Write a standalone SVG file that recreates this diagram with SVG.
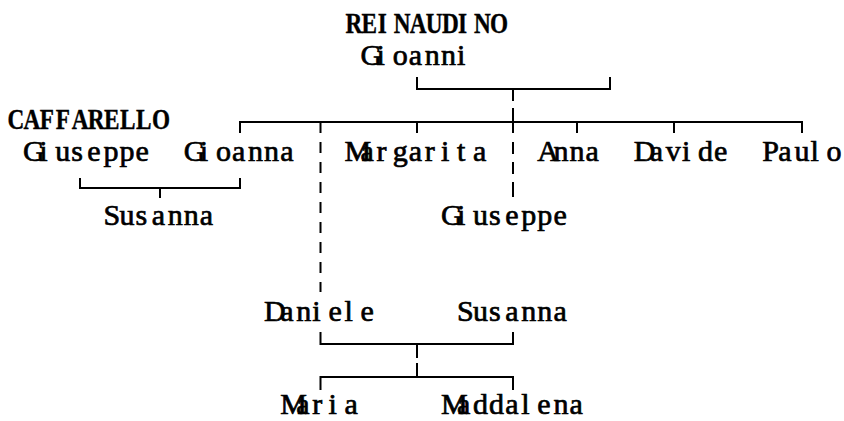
<svg xmlns="http://www.w3.org/2000/svg" width="844" height="421" viewBox="0 0 844 421">
<style>
.t{font-family:"Liberation Serif","DejaVu Serif",serif;font-size:30px;fill:#000;stroke:#000;stroke-width:0.7}
.s{font-size:29px;font-weight:bold;stroke-width:0.4}
.c{fill:none;stroke:#000;stroke-width:2}
</style>
<rect width="844" height="421" fill="#fff"/>
<g id="connectors">
<path class="c" d="M417,77V89H610V77M513,89V101M513,108V133M513,142V154M513,162V174M513,182V197"/>
<path class="c" d="M240,133V122H802V133M417,122V133M577,122V133M674,122V133"/>
<path class="c" d="M320.5,122V292" stroke-dasharray="11 9"/>
<path class="c" d="M80,178V188H240V178M160,188V198"/>
<path class="c" d="M320.5,332V344H513V332M417,344V358M417,363V377M320.5,390V377H513V390"/>
</g>
<g id="reinaudino-gioanni">
<text class="t s" transform="translate(345.5,33) scale(0.8,1)" x="0 20.09 40.18 60.26 80.35 100.44 120.53 140.61 160.7 180.79">REINAUDINO</text>
<text class="t" x="360.54 376.61 392.68 408.75 424.82 440.89 456.96" y="65">Gioanni</text>
</g>
<g id="caffarello-giuseppe">
<text class="t s" transform="translate(7.5,129) scale(0.8,1)" x="0 20.09 40.18 60.26 80.35 100.44 120.53 140.61 160.7 180.79">CAFFARELLO</text>
<text class="t" x="23.07 39.14 55.21 71.28 87.35 103.42 119.49 135.56" y="161">Giuseppe</text>
</g>
<g id="gioanna"><text class="t" x="183.77 199.84 215.91 231.98 248.05 264.12 280.19" y="161">Gioanna</text></g>
<g id="margarita"><text class="t" x="344.47 360.54 376.61 392.68 408.75 424.82 440.89 456.96 473.03" y="161">Margarita</text></g>
<g id="anna"><text class="t" x="537.31 553.38 569.45 585.52" y="161">Anna</text></g>
<g id="davide"><text class="t" x="633.73 649.80 665.87 681.94 698.01 714.08" y="161">Davide</text></g>
<g id="paulo"><text class="t" x="762.29 778.36 794.43 810.50 826.57" y="161">Paulo</text></g>
<g id="susanna-1"><text class="t" x="103.42 119.49 135.56 151.63 167.70 183.77 199.84" y="225">Susanna</text></g>
<g id="giuseppe-2"><text class="t" x="440.89 456.96 473.03 489.10 505.17 521.24 537.31 553.38" y="225">Giuseppe</text></g>
<g id="daniele"><text class="t" x="264.12 280.19 296.26 312.33 328.40 344.47 360.54" y="321">Daniele</text></g>
<g id="susanna-2"><text class="t" x="456.96 473.03 489.10 505.17 521.24 537.31 553.38" y="321">Susanna</text></g>
<g id="maria"><text class="t" x="280.19 296.26 312.33 328.40 344.47" y="414">Maria</text></g>
<g id="maddalena"><text class="t" x="440.89 456.96 473.03 489.10 505.17 521.24 537.31 553.38 569.45" y="414">Maddalena</text></g>
</svg>
